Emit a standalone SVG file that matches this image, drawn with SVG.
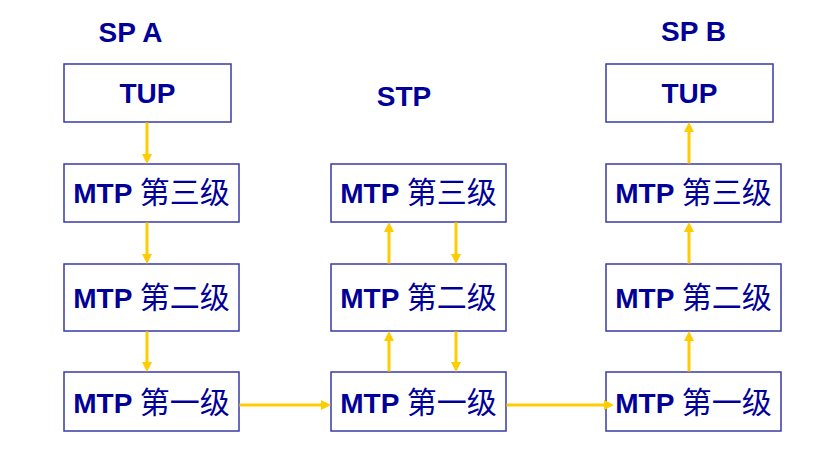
<svg xmlns="http://www.w3.org/2000/svg" width="833" height="456" viewBox="0 0 833 456">
<style>
.box{fill:#fff;stroke:#3a3aa8;stroke-width:1.5}
.t{font-family:"Liberation Sans",Arial,sans-serif;font-weight:bold;font-size:28px;fill:#000099;text-anchor:middle}
.cjk{font-family:"Noto Sans CJK SC",sans-serif;font-weight:normal;font-size:30px}
.c{stroke:#ffcc00;stroke-width:3;fill:none;marker-end:url(#ah)}
</style>
<defs>
<marker id="ah" markerUnits="userSpaceOnUse" markerWidth="10" markerHeight="10" viewBox="0 -5 10 10" refX="0" refY="0" orient="auto">
<path d="M0,-5 L10,0 L0,5 z" fill="#ffcc00"/>
</marker>
</defs>
<rect width="833" height="456" fill="#fff"/>
<g id="labels">
<text class="t" x="130.5" y="42">SP A</text>
<text class="t" x="404" y="106">STP</text>
<text class="t" x="693.5" y="41">SP B</text>
</g>
<g id="a-tup"><rect class="box" x="64" y="64" width="167" height="58"/><text class="t" x="147.5" y="103">TUP</text></g>
<g id="a-mtp3"><rect class="box" x="64" y="164" width="175" height="58"/><text class="t" x="151.5" y="203">MTP <tspan class="cjk">第三级</tspan></text></g>
<g id="a-mtp2"><rect class="box" x="64" y="264" width="175" height="67"/><text class="t" x="151.5" y="308">MTP <tspan class="cjk">第二级</tspan></text></g>
<g id="a-mtp1"><rect class="box" x="64" y="372" width="175" height="59"/><text class="t" x="151.5" y="413">MTP <tspan class="cjk">第一级</tspan></text></g>
<g id="s-mtp3"><rect class="box" x="331" y="164" width="175" height="58"/><text class="t" x="418.5" y="203">MTP <tspan class="cjk">第三级</tspan></text></g>
<g id="s-mtp2"><rect class="box" x="331" y="264" width="175" height="67"/><text class="t" x="418.5" y="308">MTP <tspan class="cjk">第二级</tspan></text></g>
<g id="s-mtp1"><rect class="box" x="331" y="372" width="175" height="59"/><text class="t" x="418.5" y="413">MTP <tspan class="cjk">第一级</tspan></text></g>
<g id="b-tup"><rect class="box" x="606" y="64" width="167" height="58"/><text class="t" x="689.5" y="103">TUP</text></g>
<g id="b-mtp3"><rect class="box" x="606" y="164" width="175" height="58"/><text class="t" x="693.5" y="203">MTP <tspan class="cjk">第三级</tspan></text></g>
<g id="b-mtp2"><rect class="box" x="606" y="264" width="175" height="67"/><text class="t" x="693.5" y="308">MTP <tspan class="cjk">第二级</tspan></text></g>
<g id="b-mtp1"><rect class="box" x="606" y="372" width="175" height="59"/><text class="t" x="693.5" y="413">MTP <tspan class="cjk">第一级</tspan></text></g>
<g id="connectors">
<path class="c" d="M147,122.5 V154"/>
<path class="c" d="M147,222.5 V254"/>
<path class="c" d="M147,331.5 V362"/>
<path class="c" d="M239.5,405 H321"/>
<path class="c" d="M389,371.5 V341"/>
<path class="c" d="M389,263.5 V232"/>
<path class="c" d="M456,222.5 V254"/>
<path class="c" d="M456,331.5 V362"/>
<path class="c" d="M506.5,405 H604"/>
<path class="c" d="M689,371.5 V341"/>
<path class="c" d="M689,263.5 V232"/>
<path class="c" d="M689,163.5 V132"/>
</g>
</svg>
